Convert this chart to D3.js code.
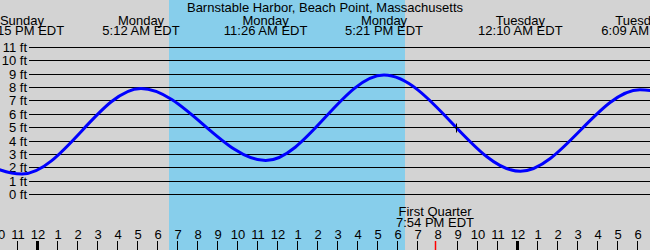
<!DOCTYPE html>
<html>
<head>
<meta charset="utf-8">
<script src="https://cdn.jsdelivr.net/npm/d3@7"></script>
<style>
  body { margin: 0; background: #d3d3d3; }
  svg text { font-family: "Liberation Sans", Arial, sans-serif; font-size: 13px; fill: #000; }
</style>
</head>
<body>
<svg id="chart"></svg>
<script>
// tide chart - hours counted from Monday 00:00 EDT

const width = 650;
const height = 250;

const title = "Barnstable Harbor, Beach Point, Massachusetts";

// high / low tide extremes (hours, feet); first and last fall outside the view
const tideHours = [-6.6, -0.75, 5.2, 11.433, 17.35, 24.167, 30.15, 36.4];
const tideHeights = [7.6, 1.5, 7.9, 2.5, 8.9, 1.7, 7.8, 1.9];

// labels shown above each visible extreme
const tideDays = ["Sunday", "Monday", "Monday", "Monday", "Tuesday", "Tuesday"];
const tideTimes = ["11:15 PM EDT", "5:12 AM EDT", "11:26 AM EDT", "5:21 PM EDT", "12:10 AM EDT", "6:09 AM EDT"];

// daylight window (sunrise, sunset)
const daylight = [6.6, 18.4];

// moon phase
const moonHour = 19.9;
const moonLabel = ["First Quarter", "7:54 PM EDT"];

// current time marker
const nowHour = 20.95;
const nowHeight = 5.0;

const feetTicks = d3.range(0, 12);
const hourTicks = d3.range(-2, 31);

const x = d3.scaleLinear().domain([0, 24]).range([37, 517]);
const y = d3.scaleLinear().domain([0, 11]).range([194, 47]);

const svg = d3.select("#chart")
  .attr("width", width)
  .attr("height", height);

svg.append("rect")
  .attr("width", width)
  .attr("height", height)
  .attr("fill", "#d3d3d3");

// daylight band
svg.append("rect")
  .attr("x", x(daylight[0]))
  .attr("y", 0)
  .attr("width", x(daylight[1]) - x(daylight[0]))
  .attr("height", height)
  .attr("fill", "#87ceeb");

// horizontal feet lines + labels
svg.selectAll(".grid")
  .data(feetTicks)
  .enter()
  .append("line")
  .attr("x1", 29)
  .attr("x2", width)
  .attr("y1", d => Math.round(y(d)) + 0.5)
  .attr("y2", d => Math.round(y(d)) + 0.5)
  .attr("stroke", "#000")
  .attr("stroke-width", 1);

svg.selectAll(".ftlabel")
  .data(feetTicks)
  .enter()
  .append("text")
  .attr("x", 27)
  .attr("y", d => y(d) + 5)
  .attr("text-anchor", "end")
  .text(d => d + " ft");

// tide curve
const line = d3.line()
  .x((d, i) => x(tideHours[i]))
  .y(d => y(d))
  .curve(d3.curveMonotoneX);

svg.append("path")
  .datum(tideHeights)
  .attr("d", line)
  .attr("fill", "none")
  .attr("stroke", "#0000ff")
  .attr("stroke-width", 3);

// labels for the extremes
const shown = tideHours.slice(1, 7);
svg.selectAll(".day")
  .data(shown)
  .enter()
  .append("text")
  .attr("x", d => x(d))
  .attr("y", 25)
  .attr("text-anchor", "middle")
  .text((d, i) => tideDays[i]);

svg.selectAll(".time")
  .data(shown)
  .enter()
  .append("text")
  .attr("x", d => x(d))
  .attr("y", 35)
  .attr("text-anchor", "middle")
  .text((d, i) => tideTimes[i]);

svg.append("text")
  .attr("x", width / 2)
  .attr("y", 12)
  .attr("text-anchor", "middle")
  .text(title);

// current time cross
const cx = Math.round(x(nowHour)) + 0.5;
const cy = Math.round(y(nowHeight)) + 0.5;
svg.append("path")
  .attr("d", `M${cx - 4},${cy}H${cx + 5}M${cx},${cy - 4}V${cy + 5}`)
  .attr("stroke", "#000")
  .attr("stroke-width", 1);

// moon phase text
svg.selectAll(".moon")
  .data(moonLabel)
  .enter()
  .append("text")
  .attr("x", x(moonHour))
  .attr("y", (d, i) => 216 + i * 11)
  .attr("text-anchor", "middle")
  .text(d => d);

// hour labels + ticks
svg.selectAll(".hour")
  .data(hourTicks)
  .enter()
  .append("text")
  .attr("x", d => x(d) + 1)
  .attr("y", 239)
  .attr("text-anchor", "middle")
  .text(d => ((d % 12) + 12) % 12 || 12);

// the moon tick takes the place of the nearest hour tick
svg.selectAll(".tick")
  .data(hourTicks.filter(d => d !== Math.round(moonHour)))
  .enter()
  .append("line")
  .attr("x1", d => Math.round(x(d)) + 0.5)
  .attr("x2", d => Math.round(x(d)) + 0.5)
  .attr("y1", 241)
  .attr("y2", height)
  .attr("stroke", "#000")
  .attr("stroke-width", d => d % 24 === 0 ? 3 : 1);

svg.append("line")
  .attr("x1", Math.round(x(moonHour)) + 0.5)
  .attr("x2", Math.round(x(moonHour)) + 0.5)
  .attr("y1", 241)
  .attr("y2", height)
  .attr("stroke", "#ff0000")
  .attr("stroke-width", 1.5);
</script>
</body>
</html>
